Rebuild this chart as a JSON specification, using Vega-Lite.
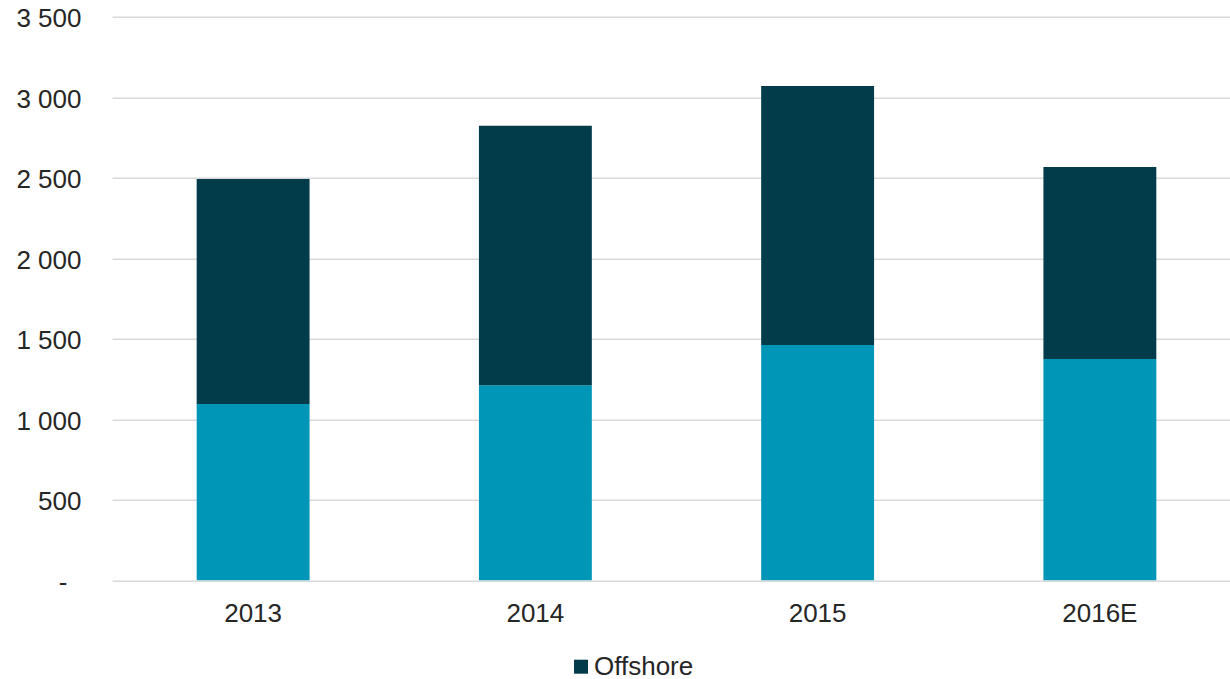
{
  "$schema": "https://vega.github.io/schema/vega-lite/v6.json",
  "width": 1129,
  "height": 563.6,
  "autosize": {"type": "none"},
  "padding": {"left": 112, "top": 16.7, "right": 0, "bottom": 98.7},
  "background": "white",
  "config": {
    "view": {"stroke": null},
    "font": "Liberation Sans",
    "axis": {"labelFont": "Liberation Sans", "labelFontSize": 26, "labelColor": "#262626"},
    "legend": {"labelFont": "Liberation Sans", "labelFontSize": 26, "labelColor": "#262626"}
  },
  "data": {
    "values": [
      {"year": "2013", "series": "Onshore", "value": 1095},
      {"year": "2013", "series": "Offshore", "value": 1397},
      {"year": "2014", "series": "Onshore", "value": 1211},
      {"year": "2014", "series": "Offshore", "value": 1612},
      {"year": "2015", "series": "Onshore", "value": 1461},
      {"year": "2015", "series": "Offshore", "value": 1609},
      {"year": "2016E", "series": "Onshore", "value": 1374},
      {"year": "2016E", "series": "Offshore", "value": 1193}
    ]
  },
  "mark": {"type": "bar"},
  "encoding": {
    "x": {
      "field": "year",
      "type": "nominal",
      "sort": null,
      "scale": {"paddingInner": 0.6, "paddingOuter": 0.3},
      "axis": {"title": null, "labelAngle": 0, "ticks": false, "domain": false, "labelPadding": 20, "grid": false}
    },
    "y": {
      "field": "value",
      "type": "quantitative",
      "aggregate": "sum",
      "stack": "zero",
      "scale": {"domain": [0, 3500], "nice": false},
      "axis": {
        "title": null,
        "values": [0, 500, 1000, 1500, 2000, 2500, 3000, 3500],
        "labelExpr": "datum.value == 0 ? '-' : replace(format(datum.value, ','), ',', ' ')",
        "ticks": false,
        "domain": false,
        "labelPadding": {"condition": {"test": "datum.value == 0", "value": 45}, "value": 31},
        "labelOffset": 2,
        "grid": true,
        "gridColor": "#d9d9d9",
        "gridWidth": 1.5
      }
    },
    "color": {
      "field": "series",
      "type": "nominal",
      "scale": {"domain": ["Offshore", "Onshore"], "range": ["#023b4a", "#0096b7"]},
      "legend": {
        "title": null,
        "values": ["Offshore"],
        "orient": "none",
        "legendX": 456,
        "legendY": 637,
        "padding": 0,
        "symbolType": "square",
        "symbolSize": 196,
        "symbolStrokeWidth": 0,
        "symbolOpacity": 1,
        "labelOffset": 0
      }
    },
    "order": {"field": "series", "sort": "descending"}
  }
}
